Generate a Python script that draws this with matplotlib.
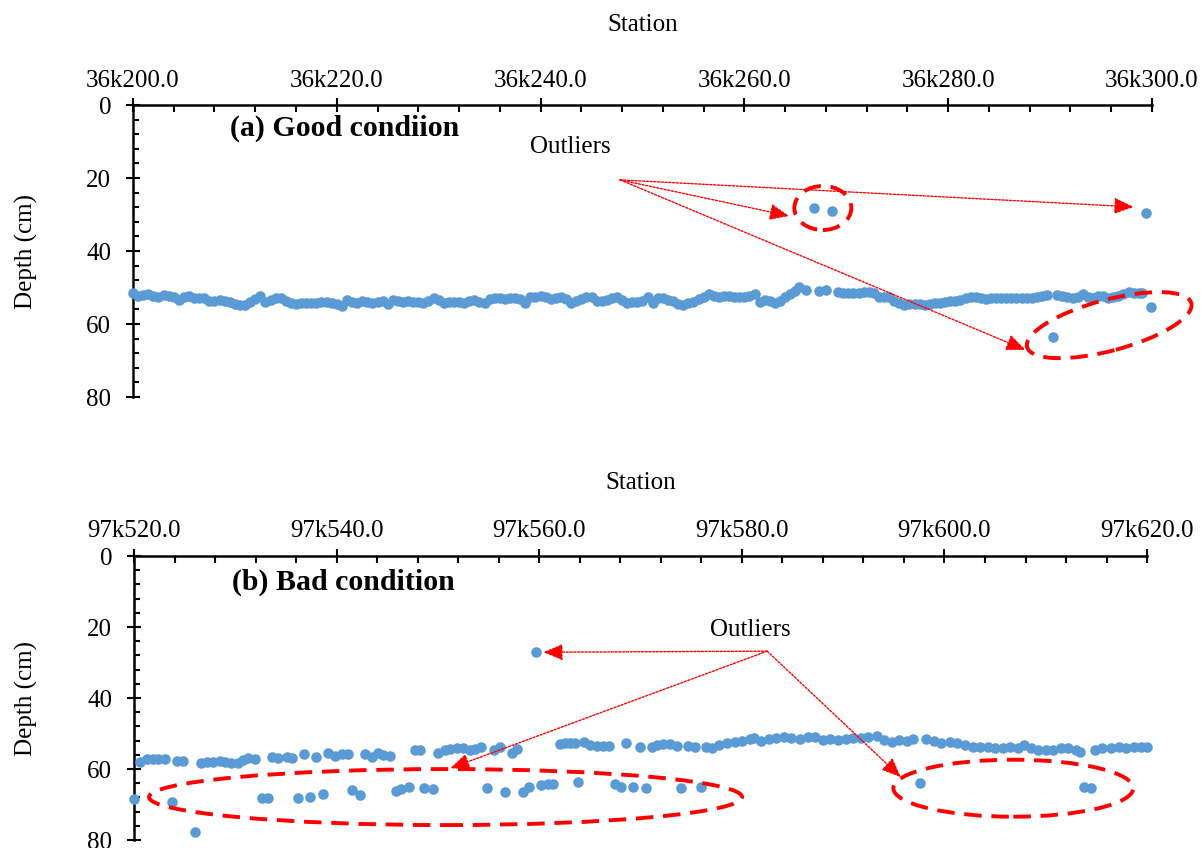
import numpy as np
import matplotlib
matplotlib.use('Agg')
import matplotlib.pyplot as plt
from matplotlib.patches import Ellipse
from matplotlib.transforms import ScaledTranslation
from matplotlib.ticker import MultipleLocator, FuncFormatter

plt.rcParams['font.family'] = 'Liberation Serif'

BLUE = '#5B9BD5'
RED = '#FF0000'

# ---------------- data: distance along section (m), depth (cm)
start_a = 36200
start_b = 97520

top_x = [
    0.0, 0.5, 1.0, 1.5, 2.0, 2.5, 3.0, 3.5, 4.0, 4.5,
    5.0, 5.5, 6.0, 6.5, 7.0, 7.5, 8.0, 8.5, 9.0, 9.5,
    10.0, 10.5, 11.0, 11.5, 12.0, 12.5, 13.0, 13.5, 14.0, 14.5,
    15.0, 15.5, 16.0, 16.5, 17.0, 17.5, 18.0, 18.5, 19.0, 19.5,
    20.0, 20.5, 21.0, 21.5, 22.0, 22.5, 23.0, 23.5, 24.0, 24.5,
    25.0, 25.5, 26.0, 26.5, 27.0, 27.5, 28.0, 28.5, 29.0, 29.5,
    30.0, 30.5, 31.0, 31.5, 32.0, 32.5, 33.0, 33.5, 34.0, 34.5,
    35.0, 35.5, 36.0, 36.5, 37.0, 37.5, 38.0, 38.5, 39.0, 39.5,
    40.0, 40.5, 41.0, 41.5, 42.0, 42.5, 43.0, 43.5, 44.0, 44.5,
    45.0, 45.5, 46.0, 46.5, 47.0, 47.5, 48.0, 48.5, 49.0, 49.5,
    50.0, 50.5, 51.0, 51.5, 52.0, 52.5, 53.0, 53.5, 54.0, 54.5,
    55.0, 55.5, 56.0, 56.5, 57.0, 57.5, 58.0, 58.5, 59.0, 59.5,
    60.0, 60.5, 61.0, 61.5, 62.0, 62.5, 63.0, 63.5, 64.0, 64.5,
    65.0, 65.4, 66.0, 67.3, 68.0,
    69.2, 69.7, 70.2, 70.7, 71.2, 71.7, 72.2, 72.7, 73.2, 73.7,
    74.2, 74.7, 75.2, 75.7, 76.2, 76.7, 77.2, 77.7, 78.2, 78.7,
    79.2, 79.7, 80.2, 80.7, 81.2, 81.7, 82.2, 82.7, 83.2, 83.7,
    84.2, 84.7, 85.2, 85.7, 86.2, 86.7, 87.2, 87.7, 88.2, 88.7,
    89.2, 89.7,
    90.7, 91.2, 91.7, 92.2, 92.7, 93.2, 93.7, 94.2, 94.7, 95.2,
    95.7, 96.2, 96.7, 97.2, 97.7, 98.2, 98.7, 99.0,
]
top_depth = [
    51.4, 52.3, 52.0, 51.8, 52.4, 52.6, 52.1, 52.3, 52.7, 53.5,
    52.6, 52.4, 53.0, 52.9, 53.0, 53.6, 53.7, 53.4, 53.6, 53.9,
    54.6, 54.8, 54.7, 54.0, 53.2, 52.3, 54.0, 53.4, 53.0, 52.8,
    53.8, 54.2, 54.5, 54.3, 54.1, 54.3, 54.3, 54.0, 53.9, 54.3,
    54.5, 55.1, 53.3, 54.0, 54.1, 53.8, 53.9, 54.3, 54.0, 53.6,
    54.4, 53.3, 53.6, 53.9, 53.8, 53.9, 54.0, 54.1, 53.6, 53.0,
    53.4, 54.1, 54.0, 53.9, 54.0, 54.1, 53.8, 53.4, 53.9, 54.3,
    53.2, 52.8, 53.0, 53.1, 53.0, 52.8, 53.2, 54.3, 52.6, 52.5,
    52.3, 52.7, 53.2, 52.9, 52.5, 53.2, 54.2, 53.8, 53.2, 52.7,
    52.6, 53.7, 53.6, 53.4, 53.0, 52.5, 53.4, 54.1, 53.9, 53.9,
    53.6, 52.7, 54.2, 52.8, 53.0, 53.4, 53.8, 54.4, 54.8, 54.3,
    53.9, 53.2, 52.5, 51.8, 52.3, 52.5, 52.4, 52.3, 52.6, 52.7,
    52.7, 52.2, 51.8, 53.9, 53.3, 53.6, 54.2, 53.6, 52.5, 51.8,
    51.0, 49.8, 50.7, 51.0, 50.7,
    51.2, 51.4, 51.6, 51.5, 51.6, 51.3, 51.3, 51.6, 52.5, 52.5,
    52.6, 53.7, 54.2, 54.8, 54.6, 54.4, 54.6, 54.7, 54.5, 54.3,
    54.1, 53.9, 53.8, 53.6, 53.3, 53.0, 52.6, 52.5, 53.0, 53.1,
    53.0, 53.0, 53.0, 53.0, 53.0, 53.0, 53.0, 53.0, 52.9, 52.7,
    52.4, 52.1,
    52.1, 52.4, 52.7, 53.0, 52.6, 51.9, 52.6, 53.0, 52.3, 52.4,
    52.9, 52.7, 52.2, 51.9, 51.3, 51.5, 51.4, 51.5,
]
top_out_x = [66.8, 68.6, 99.4, 90.3, 99.9]
top_out_depth = [28.1, 29.0, 29.5, 63.5, 55.4]

bot_x = [
    0.6, 1.25, 1.9, 2.4, 3.05, 4.2, 4.85,
    6.6, 7.2, 7.8, 8.5, 9.0, 9.6, 10.3, 10.8, 11.3, 11.9,
    13.6, 14.25, 15.1, 15.6, 16.8, 18.0,
    19.1, 19.8, 20.5, 21.1, 22.8, 23.5, 24.1, 24.6, 25.3,
    27.7, 28.2,
    30.0, 30.7, 31.2, 31.85, 32.5, 33.2, 33.7, 34.3, 35.5, 36.1, 37.3, 37.8,
    42.05, 42.55, 43.0, 43.5, 44.4, 45.0, 45.7, 46.3, 46.9, 48.6, 49.9,
    51.1, 51.6, 52.2, 52.9, 53.6, 54.7, 55.4, 56.5, 57.1, 57.7,
    58.5, 59.3, 60.0, 60.8, 61.2, 61.9, 62.7, 63.4, 64.2, 64.9,
    65.7, 66.5, 67.2, 68.0, 68.7, 69.5, 70.3, 71.0, 71.8, 72.5,
    73.3, 74.0, 74.8, 75.5, 76.3, 76.9,
    78.2, 79.0, 79.7, 80.5, 81.2, 82.0, 82.8, 83.5, 84.3, 85.0,
    85.8, 86.5, 87.3, 87.9, 88.5, 89.2, 90.0, 90.7, 91.5, 92.2,
    93.0, 93.4,
    94.9, 95.6, 96.4, 97.2, 97.9, 98.7, 99.4, 100.0,
]
bot_depth = [
    57.9, 57.3, 57.3, 57.3, 57.3, 57.6, 57.6,
    58.4, 58.1, 58.0, 57.7, 57.9, 58.4, 58.4, 57.5, 57.0, 57.3,
    56.7, 57.0, 56.5, 57.0, 55.8, 56.7,
    55.4, 56.3, 55.8, 55.8, 55.8, 56.5, 55.6, 56.1, 56.3,
    54.5, 54.6,
    55.6, 54.6, 54.4, 54.2, 54.2, 54.6, 54.4, 53.9, 54.6, 53.9, 55.4, 54.4,
    53.0, 52.8, 52.6, 52.8, 52.3, 53.2, 53.5, 53.5, 53.5, 52.6, 53.9,
    53.9, 53.2, 53.0, 53.0, 53.5, 53.5, 53.9, 53.9, 54.2, 53.2,
    52.6, 52.3, 52.0, 51.6, 51.3, 52.0, 51.6, 51.3, 51.1, 51.3,
    51.6, 51.1, 51.1, 51.8, 51.6, 51.8, 51.6, 51.3, 51.3, 51.1,
    50.7, 51.8, 52.3, 51.8, 52.0, 51.5,
    51.6, 52.2, 52.6, 52.3, 52.6, 53.2, 53.7, 53.9, 53.9, 54.2,
    54.2, 53.9, 54.2, 53.2, 54.2, 54.6, 54.6, 54.5, 54.2, 54.2,
    54.5, 55.1,
    54.6, 54.2, 54.2, 53.9, 54.2, 53.9, 53.7, 53.7,
]
bot_out_x = [
    0.0, 3.7, 6.0, 12.6, 13.25, 16.2, 17.4, 18.7, 21.5, 22.3,
    25.9, 26.4, 27.1, 28.6, 29.5, 34.8, 36.6, 38.4, 39.0, 40.2,
    40.9, 41.4, 43.85, 47.5, 48.1, 49.3, 50.5, 54.0, 56.0, 77.6,
    93.75, 94.5, 39.7,
]
bot_out_depth = [
    68.5, 69.2, 77.7, 68.3, 68.3, 68.3, 68.0, 66.9, 65.9, 67.3,
    66.1, 65.7, 65.2, 65.4, 65.7, 65.3, 66.4, 66.4, 65.2, 64.5,
    64.2, 64.2, 63.6, 64.2, 65.0, 65.0, 65.3, 65.3, 65.0, 64.0,
    65.0, 65.4, 27.0,
]


def station_fmt(start):
    def f(v, pos):
        s = start + v
        return '%dk%.1f' % (s // 1000, s % 1000)
    return FuncFormatter(f)


def setup(ax, start, labelpad, ylab_x):
    ax.set_xlim(0, 100)
    ax.set_ylim(80, 0)
    ax.spines['right'].set_visible(False)
    ax.spines['bottom'].set_visible(False)
    for s in ('top', 'left'):
        ax.spines[s].set_linewidth(1.8)
    ax.xaxis.tick_top()
    ax.xaxis.set_label_position('top')
    ax.xaxis.set_major_locator(MultipleLocator(20))
    ax.xaxis.set_minor_locator(MultipleLocator(4))
    ax.yaxis.set_major_locator(MultipleLocator(20))
    ax.yaxis.set_minor_locator(MultipleLocator(4))
    ax.xaxis.set_major_formatter(station_fmt(start))
    ax.tick_params(axis='x', which='major', direction='inout', length=9.5, width=1.5, labelsize=18, pad=5)
    ax.tick_params(axis='x', which='minor', direction='in', length=5, width=1.5)
    ax.tick_params(axis='y', which='major', direction='inout', length=9.5, width=1.5, labelsize=18, pad=11)
    ax.tick_params(axis='y', which='minor', direction='in', length=4, width=1.5)
    ax.set_xlabel('Station', fontsize=18, labelpad=labelpad)
    ax.set_ylabel('Depth (cm)', fontsize=18)
    ax.yaxis.set_label_coords(ylab_x, 0.5)


# ellipse sized in output pixels, centred on a data point
def dashed_ring(ax, cx, cy, w, h, angle=0):
    tr = ScaledTranslation(cx, cy, ax.transData)
    ax.add_patch(Ellipse((0, 0), w, h, angle=angle, transform=tr, fill=False,
                         ec=RED, lw=2.8, ls=(0, (4.5, 2.5)), clip_on=False, zorder=4))


def pointer(ax, src, dst):
    ax.annotate('', xy=dst, xytext=src,
                arrowprops=dict(arrowstyle='-|>,head_length=0.6,head_width=0.25',
                                color=RED, lw=1.0, linestyle=(0, (1.5, 1.2)),
                                mutation_scale=20, shrinkA=0, shrinkB=0))


fig = plt.figure(figsize=(12.02, 8.48), dpi=100)
ax1 = fig.add_axes([0.1106, 0.5318, 0.8478, 0.3443])
ax2 = fig.add_axes([0.1115, 0.0094, 0.8428, 0.3349])

setup(ax1, start_a, 28, -0.093)
setup(ax2, start_b, 23, -0.095)

MS = 7.6
ax1.plot(top_x, top_depth, 'o', ms=MS, color=BLUE, mec='none', clip_on=False, zorder=3)
ax1.plot(top_out_x, top_out_depth, 'o', ms=MS, color=BLUE, mec='none', clip_on=False, zorder=3)
ax2.plot(bot_x, bot_depth, 'o', ms=MS, color=BLUE, mec='none', clip_on=False, zorder=3)
ax2.plot(bot_out_x, bot_out_depth, 'o', ms=MS, color=BLUE, mec='none', clip_on=False, zorder=3)

# panel (a) annotations
ax1.text(9.5, 6.3, '(a) Good condiion', fontsize=21.5, fontweight='bold', ha='left', va='center')
ax1.text(42.9, 11.5, 'Outliers', fontsize=18, ha='center', va='center')
for tip in [(64.4, 30.4), (98.2, 27.9), (87.6, 67.1)]:
    pointer(ax1, (47.8, 20.5), tip)
dashed_ring(ax1, 67.7, 28.2, 57, 44)
dashed_ring(ax1, 95.8, 60.3, 170, 51, 15)

# panel (b) annotations
ax2.text(9.7, 7.3, '(b) Bad condition', fontsize=21.5, fontweight='bold', ha='left', va='center')
ax2.text(60.8, 20.8, 'Outliers', fontsize=18, ha='center', va='center')
for tip in [(40.4, 27.1), (31.2, 59.8), (75.7, 62.3)]:
    pointer(ax2, (62.5, 26.8), tip)
dashed_ring(ax2, 30.75, 67.9, 593, 56)
dashed_ring(ax2, 86.8, 65.4, 240, 57)

fig.savefig('out.png', dpi=100)
